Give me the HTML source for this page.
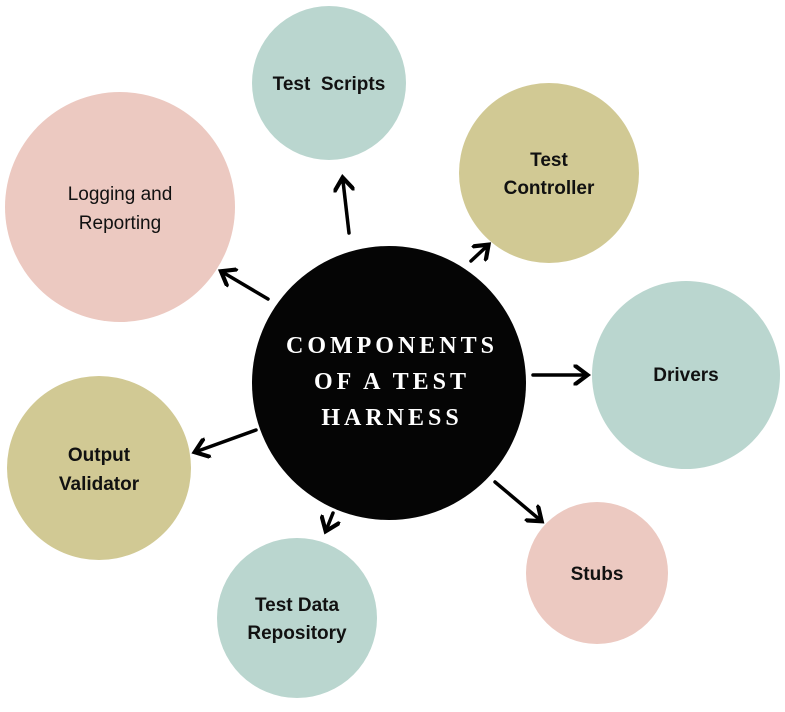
<!DOCTYPE html>
<html><head><meta charset="utf-8"><style>html,body{margin:0;padding:0;background:#fff}</style></head>
<body>
<svg width="785" height="707" viewBox="0 0 785 707" xmlns="http://www.w3.org/2000/svg">
<defs><marker id="a" markerWidth="6" markerHeight="6" refX="3" refY="3" orient="auto" markerUnits="strokeWidth"><path d="M0,0 L4,3 L0,6" fill="none" stroke="#000" stroke-width="1.2"/></marker></defs>
<circle cx="329" cy="83" r="77" fill="#bad6cf"/>
<circle cx="120" cy="207" r="115" fill="#ecc9c1"/>
<circle cx="549" cy="173" r="90" fill="#d1c994"/>
<circle cx="686" cy="375" r="94" fill="#bad6cf"/>
<circle cx="99" cy="468" r="92" fill="#d1c994"/>
<circle cx="297" cy="618" r="80" fill="#bad6cf"/>
<circle cx="597" cy="573" r="71" fill="#ecc9c1"/>
<circle cx="389" cy="383" r="137" fill="#050505"/>
<g stroke="#000" stroke-width="3.5" fill="none" marker-end="url(#a)" stroke-linecap="round">
<line x1="349" y1="233" x2="343" y2="181"/>
<line x1="471" y1="261" x2="486" y2="247"/>
<line x1="533" y1="375" x2="584" y2="375"/>
<line x1="495" y1="482" x2="539" y2="519"/>
<line x1="333" y1="513" x2="327" y2="528"/>
<line x1="256" y1="430" x2="198" y2="451"/>
<line x1="268" y1="299" x2="224" y2="273"/>
</g>
<g font-family="Liberation Sans, sans-serif" font-size="19" fill="#111" text-anchor="middle" font-weight="bold">
<text x="329" y="90">Test&#160; Scripts</text>
<text x="549" y="166">Test</text><text x="549" y="194">Controller</text>
<text x="686" y="381">Drivers</text>
<text x="99" y="461">Output</text><text x="99" y="490">Validator</text>
<text x="297" y="611">Test Data</text><text x="297" y="639">Repository</text>
<text x="597" y="580">Stubs</text>
<text x="120" y="200" font-weight="normal">Logging and</text><text x="120" y="229" font-weight="normal">Reporting</text>
</g>
<g font-family="Liberation Serif, serif" font-size="24" fill="#fff" text-anchor="middle" font-weight="bold" letter-spacing="4">
<text x="392" y="353">COMPONENTS</text>
<text x="392" y="389">OF A TEST</text>
<text x="392" y="425">HARNESS</text>
</g>
</svg>
</body></html>
